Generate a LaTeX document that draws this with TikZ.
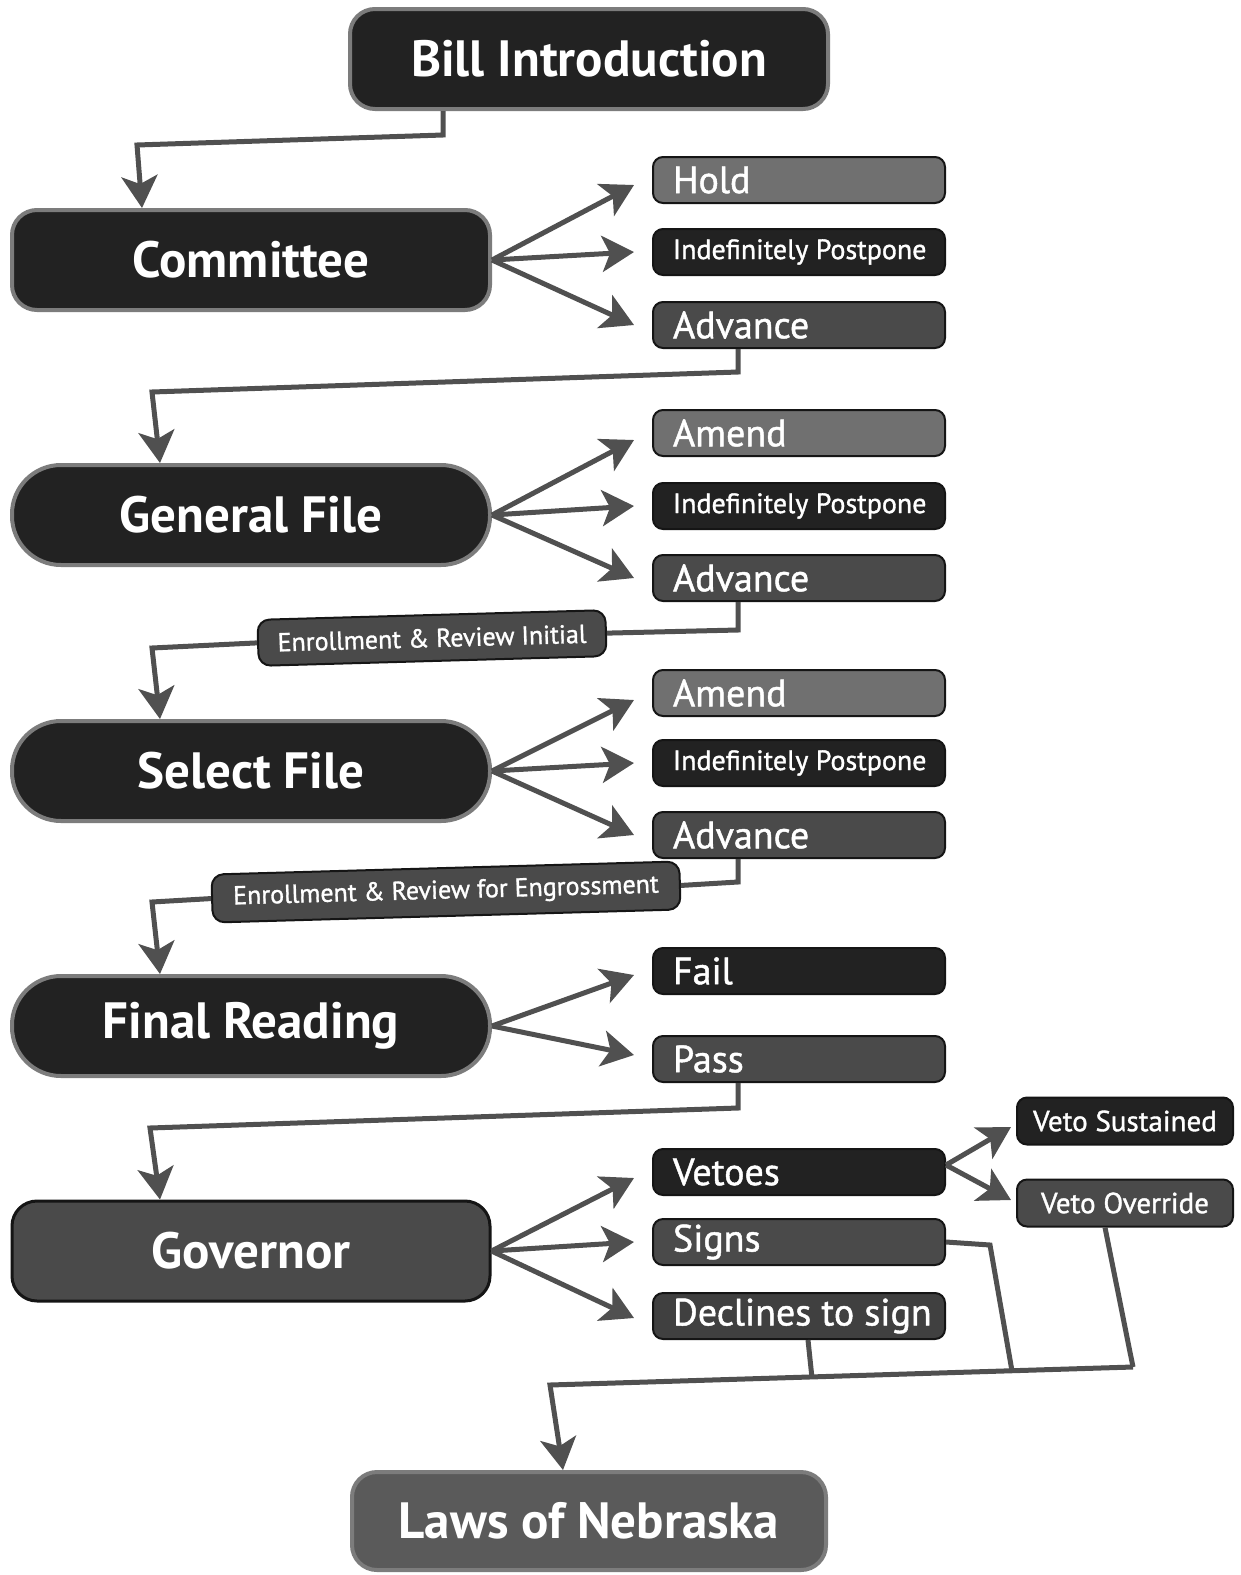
\documentclass[tikz,border=0pt]{standalone}
\usepackage{fontspec}
\setmainfont{PT Sans}
\newfontfamily\semib[FakeBold=1.2]{PT Sans}
\usetikzlibrary{arrows.meta}
\definecolor{ln}{HTML}{505050}
\definecolor{cA}{HTML}{222222}
\definecolor{cB}{HTML}{4A4A4A}
\definecolor{cC}{HTML}{707070}
\definecolor{cD}{HTML}{404040}
\definecolor{cE}{HTML}{5A5A5A}
\definecolor{bdL}{HTML}{7C7C7C}
\definecolor{bdD}{HTML}{151515}
\newcommand{\lefttext}[1]{\makebox[252pt][l]{#1}}
\tikzset{
  mainbox/.style={draw=bdL, line width=4pt, fill=cA, text=white, minimum width=478pt, minimum height=100pt, inner sep=0pt, font=\bfseries\fontsize{51}{51}\selectfont},
  squarebox/.style={mainbox, rounded corners=25pt},
  pillbox/.style={mainbox, rounded corners=49pt},
  smallbox/.style={draw=bdD, line width=2pt, rounded corners=10pt, text=white, minimum height=46pt, minimum width=292pt, inner xsep=20pt, inner ysep=0pt, font=\semib\fontsize{38}{38}\selectfont},
  smalltext/.style={font=\semib\fontsize{28}{28}\selectfont},
  vetobox/.style={draw=bdD, line width=2pt, rounded corners=10pt, text=white, minimum height=47pt, minimum width=216pt, inner sep=0pt, font=\semib\fontsize{29}{29}\selectfont},
  enrbox/.style={draw=bdD, line width=2pt, rounded corners=12pt, fill=cB, text=white, inner sep=0pt, font=\semib\fontsize{26}{26}\selectfont},
  arr/.style={draw=ln, line width=5pt, -{Stealth[length=32pt,width=36pt,inset=8pt]}},
  conn/.style={draw=ln, line width=5pt}
}
\begin{document}
\begin{tikzpicture}[x=1pt,y=-1pt]
\useasboundingbox[fill=white] (0,0) rectangle (1241,1575);
% main boxes
\node[squarebox] (bill) at (589,59) {Bill Introduction};
\node[squarebox] (com) at (251,260) {Committee};
\node[pillbox] (gen) at (251,515) {General File};
\node[pillbox] (sel) at (251,771) {Select File};
\node[pillbox] (fin) at (251,1026) {Final Reading};
\node[squarebox, fill=cB, draw=bdD, line width=3pt] (gov) at (251,1251) {Governor};
\node[squarebox, fill=cE, draw=bdL, minimum width=474pt, minimum height=98pt] (laws) at (589,1521) {Laws of Nebraska};
% committee outcomes
\node[smallbox, fill=cC] (hold) at (799,180) {\lefttext{Hold}};
\node[smallbox, fill=cA, smalltext] (ip1) at (799,252) {\lefttext{Indefinitely Postpone}};
\node[smallbox, fill=cB] (adv1) at (799,325) {\lefttext{Advance}};
% general file outcomes
\node[smallbox, fill=cC] (am1) at (799,433) {\lefttext{Amend}};
\node[smallbox, fill=cA, smalltext] (ip2) at (799,506) {\lefttext{Indefinitely Postpone}};
\node[smallbox, fill=cB] (adv2) at (799,578) {\lefttext{Advance}};
% select file outcomes
\node[smallbox, fill=cC] (am2) at (799,693) {\lefttext{Amend}};
\node[smallbox, fill=cA, smalltext] (ip3) at (799,763) {\lefttext{Indefinitely Postpone}};
\node[smallbox, fill=cB] (adv3) at (799,835) {\lefttext{Advance}};
% final reading outcomes
\node[smallbox, fill=cA] (fail) at (799,971) {\lefttext{Fail}};
\node[smallbox, fill=cB] (pass) at (799,1059) {\lefttext{Pass}};
% governor outcomes
\node[smallbox, fill=cA] (veto) at (799,1172) {\lefttext{Vetoes}};
\node[smallbox, fill=cB] (sign) at (799,1242) {\lefttext{Signs}};
\node[smallbox, fill=cD] (dec) at (799,1316) {\lefttext{Declines to sign}};
\node[vetobox, fill=cA] (vs) at (1125,1121) {Veto Sustained};
\node[vetobox, fill=cB] (vo) at (1125,1203) {Veto Override};
% enrollment labels
\node[enrbox, rotate=1.6, minimum width=348pt, minimum height=46pt] (enr1) at (432,638) {Enrollment \& Review Initial};
\node[enrbox, rotate=1.6, minimum width=468pt, minimum height=48pt] (enr2) at (446,892) {Enrollment \& Review for Engrossment};
% vertical flow connectors
\draw[arr] ([xshift=-146pt]bill.south) -- (443,135) -- (137,145) -- ([xshift=-109pt]com.north);
\draw[arr] ([xshift=-61pt]adv1.south) -- (738,372) -- (152,392) -- ([xshift=-91pt]gen.north);
\draw[conn] ([xshift=-61pt]adv2.south) -- (738,630) -- (enr1.east);
\draw[arr] (enr1.west) -- (152,648) -- ([xshift=-91pt]sel.north);
\draw[conn] ([xshift=-61pt]adv3.south) -- (738,882) -- (enr2.east);
\draw[arr] (enr2.west) -- (152,902) -- ([xshift=-91pt]fin.north);
\draw[arr] ([xshift=-61pt]pass.south) -- (738,1108) -- (150,1128) -- ([xshift=-91pt]gov.north);
% fans
\draw[arr] (com.east) -- ([xshift=-18pt,yshift=-5pt]hold.west);
\draw[arr] (com.east) -- ([xshift=-18pt]ip1.west);
\draw[arr] (com.east) -- ([xshift=-18pt]adv1.west);
\draw[arr] (gen.east) -- ([xshift=-18pt,yshift=-7pt]am1.west);
\draw[arr] (gen.east) -- ([xshift=-18pt]ip2.west);
\draw[arr] (gen.east) -- ([xshift=-18pt]adv2.west);
\draw[arr] (sel.east) -- ([xshift=-18pt,yshift=-7pt]am2.west);
\draw[arr] (sel.east) -- ([xshift=-18pt]ip3.west);
\draw[arr] (sel.east) -- ([xshift=-18pt]adv3.west);
\draw[arr] (fin.east) -- ([xshift=-18pt,yshift=-4pt]fail.west);
\draw[arr] (fin.east) -- ([xshift=-18pt,yshift=4pt]pass.west);
\draw[arr] (gov.east) -- ([xshift=-18pt,yshift=-6pt]veto.west);
\draw[arr] (gov.east) -- ([xshift=-18pt]sign.west);
\draw[arr] (gov.east) -- ([xshift=-18pt,yshift=-2pt]dec.west);
\draw[arr] ([yshift=7pt]veto.east) -- ([xshift=-5pt,yshift=-6pt]vs.west);
\draw[arr] ([yshift=7pt]veto.east) -- ([xshift=-5pt,yshift=3pt]vo.west);
% merging to laws
\coordinate (m1) at (1012,1371);
\coordinate (m2) at (1133,1367);
\coordinate (m3) at (812,1378);
\draw[conn] (sign.east) -- (990,1245) -- (m1);
\draw[conn] ([xshift=-20pt]vo.south) -- (m2);
\draw[conn] ([xshift=9pt]dec.south) -- (m3);
\draw[arr] (m2) -- (550,1385) -- ([xshift=-26pt]laws.north);
\end{tikzpicture}
\end{document}
